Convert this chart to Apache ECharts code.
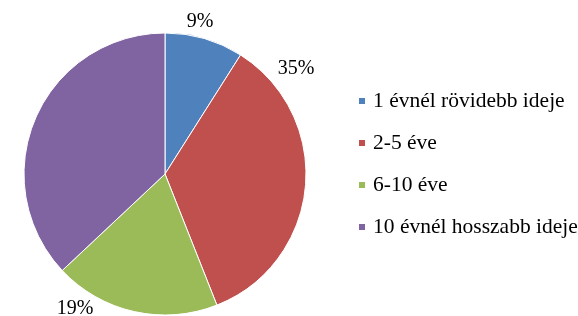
<!DOCTYPE html>
<html>
<head>
<meta charset="utf-8">
<script src="https://cdn.jsdelivr.net/npm/echarts@6/dist/echarts.min.js"></script>
<style>
  html, body { margin: 0; padding: 0; background: #fff; }
  #chart { width: 578px; height: 316px; }
</style>
</head>
<body>
<div id="chart"></div>
<script>
const categories = ['1 évnél rövidebb ideje', '2-5 éve', '6-10 éve', '10 évnél hosszabb ideje']
const values = [9, 35, 19, 37]
const colors = ['#4F81BD', '#C0504D', '#9BBB59', '#8064A2']
// label spots as they sit in the original (moved by hand, not at mid angle)
const labelPos = [[200, 22], [296, 69], [75, 309], [28, 72]]

const font = 'Liberation Serif, Times New Roman, serif'

const myChart = echarts.init(document.getElementById('chart'))
myChart.setOption({
  animation: false,
  legend: {
    orient: 'vertical',
    left: 352,
    top: 85,
    icon: 'rect',
    itemWidth: 8,
    itemHeight: 8,
    itemGap: 20,
    data: categories,
    textStyle: {
      fontFamily: font,
      fontSize: 21.5,
      color: '#000',
      padding: [0, 0, 0, 2]
    }
  },
  series: [
    {
      type: 'pie',
      center: [165, 174],
      radius: 141,
      startAngle: 90,
      clockwise: true,
      data: categories.map((name, i) => ({
        name: name,
        value: values[i],
        itemStyle: { color: colors[i] }
      })),
      itemStyle: {
        borderColor: '#fff',
        borderWidth: 1
      },
      label: {
        show: true,
        position: 'outside',
        formatter: '{c}%',
        fontFamily: font,
        fontSize: 20,
        color: '#000'
      },
      labelLine: { show: false },
      labelLayout: (params) => ({
        x: labelPos[params.dataIndex][0],
        y: labelPos[params.dataIndex][1],
        align: 'center',
        verticalAlign: 'middle'
      }),
      emphasis: { disabled: true }
    }
  ]
})
</script>
</body>
</html>
